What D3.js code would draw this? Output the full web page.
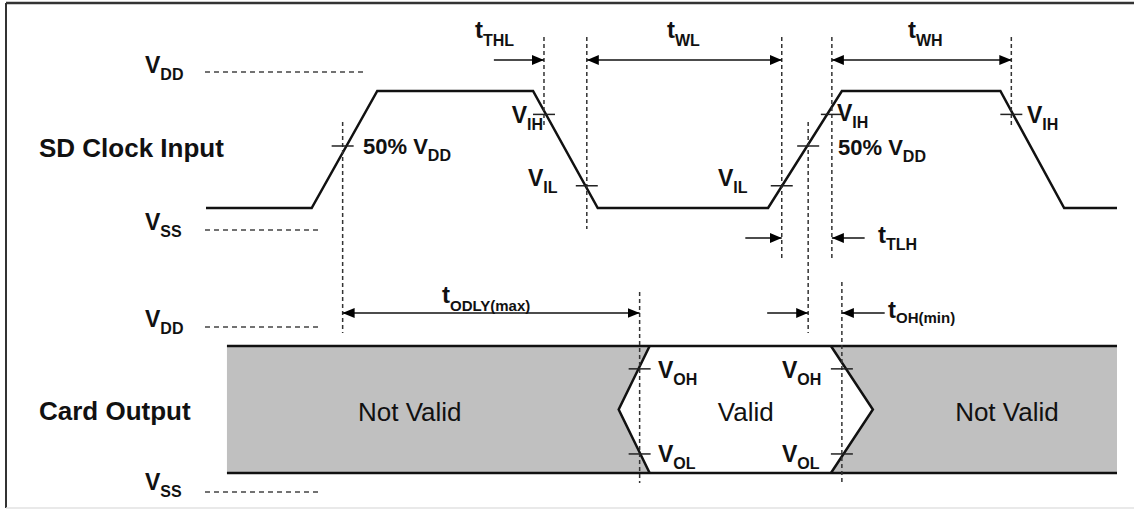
<!DOCTYPE html>
<html>
<head>
<meta charset="utf-8">
<script src="https://cdn.jsdelivr.net/npm/d3@7"></script>
<style>
  html, body { margin: 0; padding: 0; background: #fff; }
  svg { display: block; font-family: "Liberation Sans", Arial, Helvetica, sans-serif; }
</style>
</head>
<body>
<svg id="chart" width="1134" height="510"></svg>
<script>
// ---------------- DATA (time in arbitrary units 0..100, voltage as fraction of VDD) ----------------
const clockTimes  = [0, 11.6, 18.8, 35.9, 43.0, 61.7, 69.8, 87.2, 94.2, 100];
const clockLevels = [0, 0,    1,    1,    0,    0,    1,    1,    0,    0];

const VIH = 0.8, VIL = 0.19, V50 = 0.53;
const VOH = 0.82, VOL = 0.15;

// threshold crossings marked on the clock
const clockTickTimes  = [15.0, 37.1, 41.8, 63.2, 66.1, 68.7, 88.4];
const clockTickLevels = [V50,  VIH,  VIL,  VIL,  V50,  VIH,  VIH];

// card output: not-valid / valid windows
const cardStart = 2.3, cardEnd = 100;
const validEdgeOuter = [45.3, 73.2];   // time of edge tips (mid level)
const validEdgeInner = [48.7, 68.6];   // time where edges meet the rails
const cardTickTimes = [47.6, 69.8];
const cardTickLevels = [VOH, VOL];

// timing reference lines
const refTimes = { t50a: 15.0, tIHa: 37.1, tILa: 41.8, tILb: 63.2, t50b: 66.1, tIHb: 68.7, tIHc: 88.4, tODLY: 47.6, tOH: 69.8 };
// arrow tails
const tailTHL = 31.6, tailTLHl = 59.2, tailTLHr = 72.3, tailOHl = 61.6, tailOHr = 74.5;

const rowLabels = ["SD Clock Input", "Card Output"];
const segLabels = ["Not Valid", "Valid", "Not Valid"];

// ---------------- SCALES ----------------
const x  = d3.scaleLinear().domain([0, 100]).range([206, 1117]);
const yC = d3.scaleLinear().domain([0, 1]).range([208, 91]);    // clock
const yO = d3.scaleLinear().domain([0, 1]).range([473, 346]);   // card output

const svg = d3.select("#chart");
const FONT = '"Liberation Sans", Arial, Helvetica, sans-serif';

// arrow marker
const defs = svg.append("defs");
defs.append("marker").attr("id", "ah").attr("viewBox", "0 0 12 10")
  .attr("refX", 12).attr("refY", 5).attr("markerWidth", 12).attr("markerHeight", 10)
  .attr("markerUnits", "userSpaceOnUse").attr("orient", "auto-start-reverse")
  .append("path").attr("d", "M0,0 L12,5 L0,10 Z").attr("fill", "#000");

// frame
svg.append("line").attr("x1", 6).attr("x2", 1134).attr("y1", 3).attr("y2", 3).attr("stroke", "#333").attr("stroke-width", 2.5);
svg.append("line").attr("x1", 6).attr("x2", 6).attr("y1", 3).attr("y2", 508).attr("stroke", "#333").attr("stroke-width", 2);
svg.append("line").attr("x1", 6).attr("x2", 1134).attr("y1", 508).attr("y2", 508).attr("stroke", "#e2e2e2").attr("stroke-width", 1.5);

// label helper with subscript
function lab(xp, yp, main, sub, opts = {}) {
  const size = opts.size || 22, subSize = opts.subSize || 16;
  const t = svg.append("text").attr("x", xp).attr("y", yp)
    .attr("font-family", FONT).attr("font-weight", opts.weight || "bold")
    .attr("font-size", size).attr("fill", "#111")
    .attr("text-anchor", opts.anchor || "start");
  t.append("tspan").text(main);
  if (sub) t.append("tspan").attr("dy", opts.dy || 7).attr("font-size", subSize).text(sub);
  return t;
}

// ---------------- CARD OUTPUT ----------------
const midO = yO(0.5), topO = yO(1), botO = yO(0);
const leftPoly = [[x(cardStart), topO], [x(validEdgeInner[0]), topO], [x(validEdgeOuter[0]), midO], [x(validEdgeInner[0]), botO], [x(cardStart), botO]];
const rightPoly = [[x(validEdgeInner[1]), topO], [x(cardEnd), topO], [x(cardEnd), botO], [x(validEdgeInner[1]), botO], [x(validEdgeOuter[1]), midO]];
svg.append("path").attr("d", d3.line()(leftPoly) + "Z").attr("fill", "#c0c0c0");
svg.append("path").attr("d", d3.line()(rightPoly) + "Z").attr("fill", "#c0c0c0");
[topO, botO].forEach(yy => svg.append("line").attr("x1", x(cardStart)).attr("x2", x(cardEnd)).attr("y1", yy).attr("y2", yy).attr("stroke", "#111").attr("stroke-width", 2.5));
svg.append("path").attr("d", d3.line()([[x(validEdgeInner[0]), topO], [x(validEdgeOuter[0]), midO], [x(validEdgeInner[0]), botO]]))
  .attr("fill", "none").attr("stroke", "#111").attr("stroke-width", 2.5);
svg.append("path").attr("d", d3.line()([[x(validEdgeInner[1]), topO], [x(validEdgeOuter[1]), midO], [x(validEdgeInner[1]), botO]]))
  .attr("fill", "none").attr("stroke", "#111").attr("stroke-width", 2.5);

// ---------------- CLOCK ----------------
const clockPts = clockTimes.map((t, i) => [x(t), yC(clockLevels[i])]);
svg.append("path").attr("d", d3.line()(clockPts)).attr("fill", "none").attr("stroke", "#111").attr("stroke-width", 2.5).attr("stroke-linejoin", "miter");

// ---------------- DASHED REFERENCE LINES ----------------
const rowT = 37, rowArrow1 = 60, rowArrow2 = 238, rowArrow3 = 313;
const vlines = [
  [refTimes.t50a, 122, 333], [refTimes.tIHa, rowT, 128], [refTimes.tILa, rowT, 229],
  [refTimes.tILb, rowT, 258], [refTimes.t50b, 122, 333], [refTimes.tIHb, rowT, 258],
  [refTimes.tIHc, rowT, 128], [refTimes.tODLY, 292, 483], [refTimes.tOH, 282, 483]
];
vlines.forEach(([t, y1, y2]) => svg.append("line").attr("x1", x(t)).attr("x2", x(t)).attr("y1", y1).attr("y2", y2)
  .attr("stroke", "#333").attr("stroke-width", 1.5).attr("stroke-dasharray", "4,3"));

// level reference lines at left
const hlines = [[yC(1) - 19, 365], [yC(0) + 22, 318], [topO - 19, 318], [botO + 19, 318]];
hlines.forEach(([yy, x2]) => svg.append("line").attr("x1", 205).attr("x2", x2).attr("y1", yy).attr("y2", yy)
  .attr("stroke", "#444").attr("stroke-width", 1.3).attr("stroke-dasharray", "5,4"));

// threshold ticks
clockTickTimes.forEach((t, i) => svg.append("line").attr("x1", x(t) - 11).attr("x2", x(t) + 11)
  .attr("y1", yC(clockTickLevels[i])).attr("y2", yC(clockTickLevels[i])).attr("stroke", "#222").attr("stroke-width", 1.5));
cardTickTimes.forEach(t => cardTickLevels.forEach(v => svg.append("line").attr("x1", x(t) - 11).attr("x2", x(t) + 11)
  .attr("y1", yO(v)).attr("y2", yO(v)).attr("stroke", "#222").attr("stroke-width", 1.5)));

// ---------------- ARROWS ----------------
function arrow(t1, t2, yy, startHead, endHead) {
  const l = svg.append("line").attr("x1", x(t1)).attr("x2", x(t2)).attr("y1", yy).attr("y2", yy)
    .attr("stroke", "#111").attr("stroke-width", 1.6);
  if (endHead) l.attr("marker-end", "url(#ah)");
  if (startHead) l.attr("marker-start", "url(#ah)");
}
arrow(tailTHL, refTimes.tIHa, rowArrow1, false, true);
arrow(refTimes.tILa, refTimes.tILb, rowArrow1, true, true);
arrow(refTimes.tIHb, refTimes.tIHc, rowArrow1, true, true);
arrow(tailTLHl, refTimes.tILb, rowArrow2, false, true);
arrow(tailTLHr, refTimes.tIHb, rowArrow2, false, true);
arrow(refTimes.t50a, refTimes.tODLY, rowArrow3, true, true);
arrow(tailOHl, refTimes.t50b, rowArrow3, false, true);
arrow(tailOHr, refTimes.tOH, rowArrow3, false, true);

// ---------------- TEXT ----------------
lab(39, 157, rowLabels[0], null, { size: 26 });
lab(39, 420, rowLabels[1], null, { size: 26 });

lab(145, 73, "V", "DD", { size: 23 });
lab(145, 230, "V", "SS", { size: 23 });
lab(145, 327, "V", "DD", { size: 23 });
lab(145, 490, "V", "SS", { size: 23 });

lab(475, 38, "t", "THL", { size: 24, dy: 8 });
lab(667, 38, "t", "WL", { size: 24, dy: 8 });
lab(908, 38, "t", "WH", { size: 24, dy: 8 });
lab(878, 243, "t", "TLH", { size: 24, dy: 7 });
lab(442, 303, "t", "ODLY(max)", { size: 24, subSize: 15, dy: 8 });
lab(888, 318, "t", "OH(min)", { size: 24, subSize: 15, dy: 5 });

lab(543, 123, "V", "IH", { anchor: "end", size: 23 });
lab(528, 186, "V", "IL", { size: 23 });
lab(363, 154, "50% V", "DD");
lab(718, 186, "V", "IL", { size: 23 });
lab(837, 121, "V", "IH", { size: 23 });
lab(838, 155, "50% V", "DD");
lab(1027, 123, "V", "IH", { size: 23 });

lab(658, 378, "V", "OH", { size: 23 });
lab(658, 462, "V", "OL", { size: 23 });
lab(782, 378, "V", "OH", { size: 23 });
lab(782, 462, "V", "OL", { size: 23 });

const segCenters = [(x(cardStart) + x(validEdgeOuter[0])) / 2 - 13, (x(validEdgeOuter[0]) + x(validEdgeOuter[1])) / 2, (x(validEdgeOuter[1]) + x(cardEnd)) / 2 + 12];
segLabels.forEach((s, i) => lab(segCenters[i], 421, s, null, { size: 26, weight: "normal", anchor: "middle" }));
</script>
</body>
</html>
